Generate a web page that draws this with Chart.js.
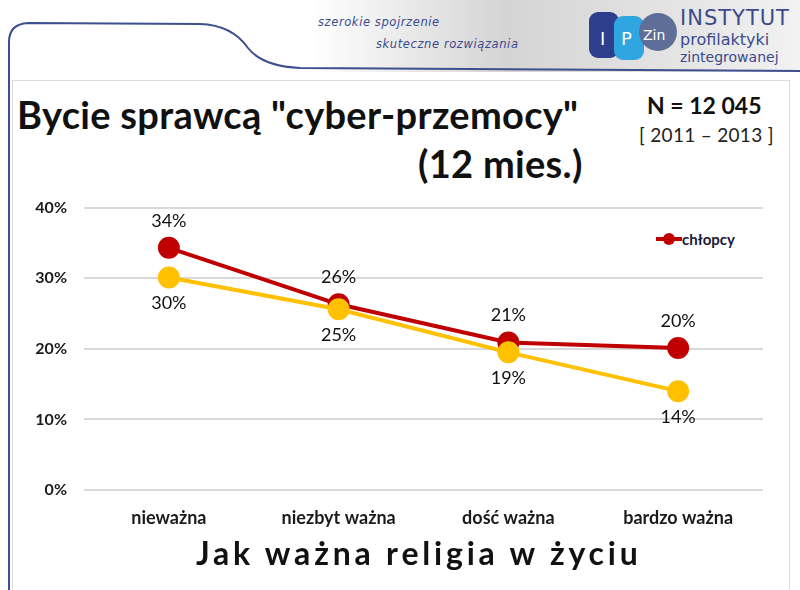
<!DOCTYPE html>
<html lang="pl">
<head>
<meta charset="utf-8">
<script src="https://cdn.jsdelivr.net/npm/chart.js@4/dist/chart.umd.min.js"></script>
<style>
  html, body { margin: 0; padding: 0; background: #fff; }
  #page { position: relative; width: 800px; height: 590px; overflow: hidden; font-family: Lato, "Open Sans", sans-serif; }
  .abs { position: absolute; white-space: nowrap; }
  #header { left: 310px; top: 0; width: 490px; height: 72px;
            background: linear-gradient(to right, #ffffff 0%, #d4d4d4 40%, #e4e4e4 75%, #f2f2f2 100%); }
  .slogan { font-family: "DejaVu Sans", sans-serif; font-style: italic; font-size: 11.5px; color: #3b4a8c; letter-spacing: 0.6px; }
  #inner { left: 12px; top: 80px; width: 776px; height: 520px; border: 1px solid #dcdcdc; }
  #chartBox { left: 0; top: 181px; width: 800px; height: 409px; }
  .title { font-weight: bold; color: #111; }
</style>
</head>
<body>
<div id="page">
  <div id="header" class="abs"></div>
  <div id="inner" class="abs"></div>
  <svg class="abs" style="left:0;top:0" width="800" height="590">
    <path d="M9,590 L9,42 Q9,24 28,23 L200,24 Q232,25 248,48 Q262,66 300,68 L800,71"
          fill="none" stroke="#3d4f8f" stroke-width="2"/>
    <!-- logo puzzle -->
    <rect x="589" y="12" width="30" height="46" rx="9" fill="#2e3d8c"/>
    <rect x="614" y="16" width="30" height="44" rx="9" fill="#2fa6e0"/>
    <circle cx="658" cy="32" r="19" fill="#5e6e96"/>
    <text x="600" y="45" font-family="DejaVu Sans" font-size="18" fill="#fff">I</text>
    <text x="621" y="45" font-family="DejaVu Sans" font-size="18" fill="#fff">P</text>
    <text x="643" y="40" font-family="DejaVu Sans" font-size="14" fill="#fff">Zin</text>
  </svg>
  <div class="abs slogan" style="left:318px;top:15px;">szerokie spojrzenie</div>
  <div class="abs slogan" style="left:376px;top:37px;">skuteczne rozwiązania</div>
  <div class="abs" style="left:680px;top:6px;font-family:'DejaVu Sans';font-size:21px;color:#3b4a8c;letter-spacing:1px;">INSTYTUT</div>
  <div class="abs" style="left:680px;top:30px;font-family:'DejaVu Sans';font-size:16px;color:#3b4a8c;">profilaktyki</div>
  <div class="abs" style="left:680px;top:49px;font-family:'DejaVu Sans';font-size:14px;color:#3b4a8c;">zintegrowanej</div>

  <div class="abs title" style="left:17px;top:91px;font-size:38px;letter-spacing:0.3px;">Bycie sprawcą "cyber-przemocy"</div>
  <div class="abs title" style="left:418px;top:140px;font-size:38px;letter-spacing:0.3px;">(12 mies.)</div>
  <div class="abs title" style="left:647px;top:91px;font-size:23px;">N = 12 045</div>
  <div class="abs" style="left:639px;top:123px;font-size:19px;color:#222;letter-spacing:0.3px;">[ 2011 – 2013 ]</div>

  <div class="abs" style="left:656px;top:228px;font-size:15px;font-weight:bold;color:#1a1a3a;">
    <span style="display:inline-block;position:relative;width:26px;height:14px;vertical-align:middle;">
      <span style="position:absolute;left:0;top:5px;width:26px;height:4px;background:#c00000;"></span>
      <span style="position:absolute;left:7px;top:1px;width:12px;height:12px;border-radius:50%;background:#c00000;"></span>
    </span><span style="vertical-align:middle;">chłopcy</span>
  </div>

  <div id="chartBox" class="abs"><canvas id="religionChart"></canvas></div>

  <div class="abs title" style="left:196px;top:533px;font-size:32px;letter-spacing:3.8px;">Jak ważna religia w życiu</div>
</div>

<script>
// dane
const categories = ['nieważna', 'niezbyt ważna', 'dość ważna', 'bardzo ważna'];
const boysValues = [34.3, 26.3, 20.9, 20.1];
const girlsValues = [30.1, 25.6, 19.5, 14.0];
const boysLabels = ['34%', '26%', '21%', '20%'];
const girlsLabels = ['30%', '25%', '19%', '14%'];
const yTicks = [0, 10, 20, 30, 40];

// etykiety wartości nad / pod punktami
const valueLabelsPlugin = {
    id: 'valueLabels',
    afterDatasetsDraw(chart) {
        const ctx = chart.ctx;
        ctx.save();
        ctx.font = '18px Lato, sans-serif';
        ctx.fillStyle = '#111';
        ctx.textAlign = 'center';
        chart.data.datasets.forEach((ds, i) => {
            const meta = chart.getDatasetMeta(i);
            meta.data.forEach((pt, j) => {
                const above = ds.labelPos === 'above';
                ctx.textBaseline = above ? 'bottom' : 'top';
                const y = above ? pt.y - 18 : pt.y + 17;
                ctx.fillText(ds.valueLabels[j], pt.x, y);
            });
        });
        ctx.restore();
    }
};

createReligionChart();

function createReligionChart() {
    const ctx = document.getElementById('religionChart');
    if (!ctx) return;

    new Chart(ctx, {
        type: 'line',
        data: {
            labels: categories,
            datasets: [
                {
                    label: 'dziewczęta',
                    data: girlsValues,
                    valueLabels: girlsLabels,
                    labelPos: 'below',
                    borderColor: '#ffc000',
                    backgroundColor: '#ffc000',
                    borderWidth: 4,
                    pointRadius: 9,
                    pointHoverRadius: 9,
                    tension: 0
                },
                {
                    label: 'chłopcy',
                    data: boysValues,
                    valueLabels: boysLabels,
                    labelPos: 'above',
                    borderColor: '#c00000',
                    backgroundColor: '#c00000',
                    borderWidth: 4,
                    pointRadius: 9,
                    pointHoverRadius: 9,
                    tension: 0
                }
            ]
        },
        options: {
            responsive: true,
            maintainAspectRatio: false,
            animation: false,
            layout: { padding: { top: 2, right: 37, bottom: 0, left: 0 } },
            scales: {
                x: {
                    offset: true,
                    grid: { display: false, drawTicks: false },
                    border: { display: false },
                    ticks: {
                        padding: 17,
                        color: '#1a1a1a',
                        font: { family: 'Lato', size: 18, weight: 'bold' }
                    },
                    afterFit: s => { s.height = 100; }
                },
                y: {
                    min: 0,
                    max: 40,
                    afterBuildTicks: s => { s.ticks = yTicks.map(v => ({ value: v })); },
                    grid: { color: '#d9d9d9', lineWidth: 2, drawTicks: false },
                    border: { display: false },
                    ticks: {
                        padding: 17,
                        color: '#1a1a1a',
                        font: { family: 'Lato', size: 16, weight: 'bold' },
                        callback: v => v + '%'
                    },
                    afterFit: s => { s.width = 84; }
                }
            },
            plugins: {
                legend: { display: false },
                tooltip: { enabled: false }
            }
        },
        plugins: [valueLabelsPlugin]
    });
}
</script>
</body>
</html>
